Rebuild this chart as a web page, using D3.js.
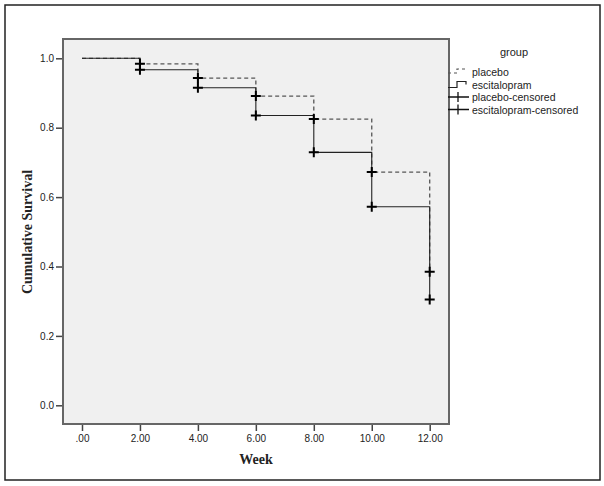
<!DOCTYPE html>
<html>
<head>
<meta charset="utf-8">
<script src="https://cdn.jsdelivr.net/npm/d3@7"></script>
<style>
  html, body { margin: 0; padding: 0; background: #fff; }
  svg { display: block; }
  .tick text { font: 10px 'Liberation Sans', Arial, sans-serif; fill: #222; }
</style>
</head>
<body>
<div id="vis"></div>
<script>
// step-change weeks and survival levels
var weeks = [0, 2, 4, 6, 8, 10, 12];
var placebo = [1.0, 0.984, 0.943, 0.891, 0.825, 0.672, 0.385];
var escitalopram = [1.0, 0.967, 0.915, 0.835, 0.729, 0.572, 0.305];
var xTicks = [0, 2, 4, 6, 8, 10, 12];
var yTicks = [0, 0.2, 0.4, 0.6, 0.8, 1.0];
var legendLabels = ["placebo", "escitalopram", "placebo-censored", "escitalopram-censored"];

var width = 604, height = 486;
var plot = { left: 63, top: 39, right: 449, bottom: 424 };

var svg = d3.select("#vis").append("svg")
    .attr("width", width)
    .attr("height", height);

// outer frame
svg.append("rect")
    .attr("x", 5).attr("y", 5)
    .attr("width", 595).attr("height", 475)
    .attr("fill", "none").attr("stroke", "#222").attr("stroke-width", 1.5);

// plot background
svg.append("rect")
    .attr("x", plot.left).attr("y", plot.top)
    .attr("width", plot.right - plot.left).attr("height", plot.bottom - plot.top)
    .attr("fill", "#f0f0f0").attr("stroke", "#666").attr("stroke-width", 2);

var x = d3.scaleLinear().domain([0, 12]).range([82, 429.7]);
var y = d3.scaleLinear().domain([0, 1]).range([405.3, 58.3]);

// axes
var xAxis = svg.append("g")
    .attr("transform", "translate(0," + (plot.bottom + 1) + ")")
    .call(d3.axisBottom(x).tickValues(xTicks).tickSize(6).tickPadding(4)
        .tickFormat(function (d) { return d === 0 ? ".00" : d3.format(".2f")(d); }));
xAxis.select(".domain").remove();
xAxis.selectAll(".tick line").attr("stroke", "#444").attr("stroke-width", 1.5);

var yAxis = svg.append("g")
    .attr("transform", "translate(" + (plot.left - 1) + ",0)")
    .call(d3.axisLeft(y).tickValues(yTicks).tickSize(6).tickPadding(2)
        .tickFormat(d3.format(".1f")));
yAxis.select(".domain").remove();
yAxis.selectAll(".tick line").attr("stroke", "#444").attr("stroke-width", 1.5);

// axis titles
svg.append("text")
    .attr("x", 256).attr("y", 464)
    .attr("text-anchor", "middle")
    .style("font", "bold 14px 'Liberation Serif', 'Times New Roman', serif")
    .attr("fill", "#222")
    .text("Week");

svg.append("text")
    .attr("transform", "translate(32,232) rotate(-90)")
    .attr("text-anchor", "middle")
    .style("font", "bold 14px 'Liberation Serif', 'Times New Roman', serif")
    .attr("fill", "#222")
    .text("Cumulative Survival");

// step curves
function stepPoints(vals) {
    return weeks.map(function (w, i) { return [w, vals[i]]; });
}
var line = d3.line()
    .x(function (d) { return x(d[0]); })
    .y(function (d) { return y(d[1]); })
    .curve(d3.curveStepAfter);

// last point: vertical drop at week 12
function pathFor(vals) {
    var pts = stepPoints(vals);
    return line(pts);
}

svg.append("path")
    .attr("d", pathFor(placebo))
    .attr("fill", "none").attr("stroke", "#555").attr("stroke-width", 1.3)
    .attr("stroke-dasharray", "4,3");

svg.append("path")
    .attr("d", pathFor(escitalopram))
    .attr("fill", "none").attr("stroke", "#222").attr("stroke-width", 1.1);

// censored marks
function drawCensored(vals) {
    var pts = stepPoints(vals).slice(1);
    svg.append("g").selectAll("path")
        .data(pts)
        .join("path")
        .attr("d", function (d) {
            var cx = x(d[0]), cy = y(d[1]);
            return "M" + (cx - 5) + "," + cy + "H" + (cx + 5) + "M" + cx + "," + (cy - 5) + "V" + (cy + 5);
        })
        .attr("stroke", "#000").attr("stroke-width", 2).attr("fill", "none");
}
drawCensored(placebo);
drawCensored(escitalopram);

// legend
var legend = svg.append("g").attr("transform", "translate(447,0)");
legend.append("text")
    .attr("x", 67).attr("y", 56)
    .attr("text-anchor", "middle")
    .style("font", "11px 'Liberation Sans', Arial, sans-serif")
    .attr("fill", "#222")
    .text("group");

var rowY = [72, 84.5, 97, 109.5];
legendLabels.forEach(function (lab, i) {
    var ry = rowY[i];
    var g = legend.append("g");
    if (i === 0) {
        g.append("path")
            .attr("d", "M1," + (ry + 1) + "H10V" + (ry - 3) + "H20")
            .attr("fill", "none").attr("stroke", "#555").attr("stroke-width", 1.2)
            .attr("stroke-dasharray", "3,3");
    } else if (i === 1) {
        g.append("path")
            .attr("d", "M1," + (ry + 3) + "H10V" + (ry - 3) + "H19V" + ry)
            .attr("fill", "none").attr("stroke", "#222").attr("stroke-width", 1.2);
    } else {
        g.append("path")
            .attr("d", "M1," + ry + "H22M11," + (ry - 5) + "V" + (ry + 5))
            .attr("fill", "none").attr("stroke", "#111").attr("stroke-width", 1.3);
    }
    g.append("text")
        .attr("x", 25).attr("y", ry + 4)
        .style("font", "10.5px 'Liberation Sans', Arial, sans-serif")
        .attr("fill", "#222")
        .text(lab);
});
</script>
</body>
</html>
